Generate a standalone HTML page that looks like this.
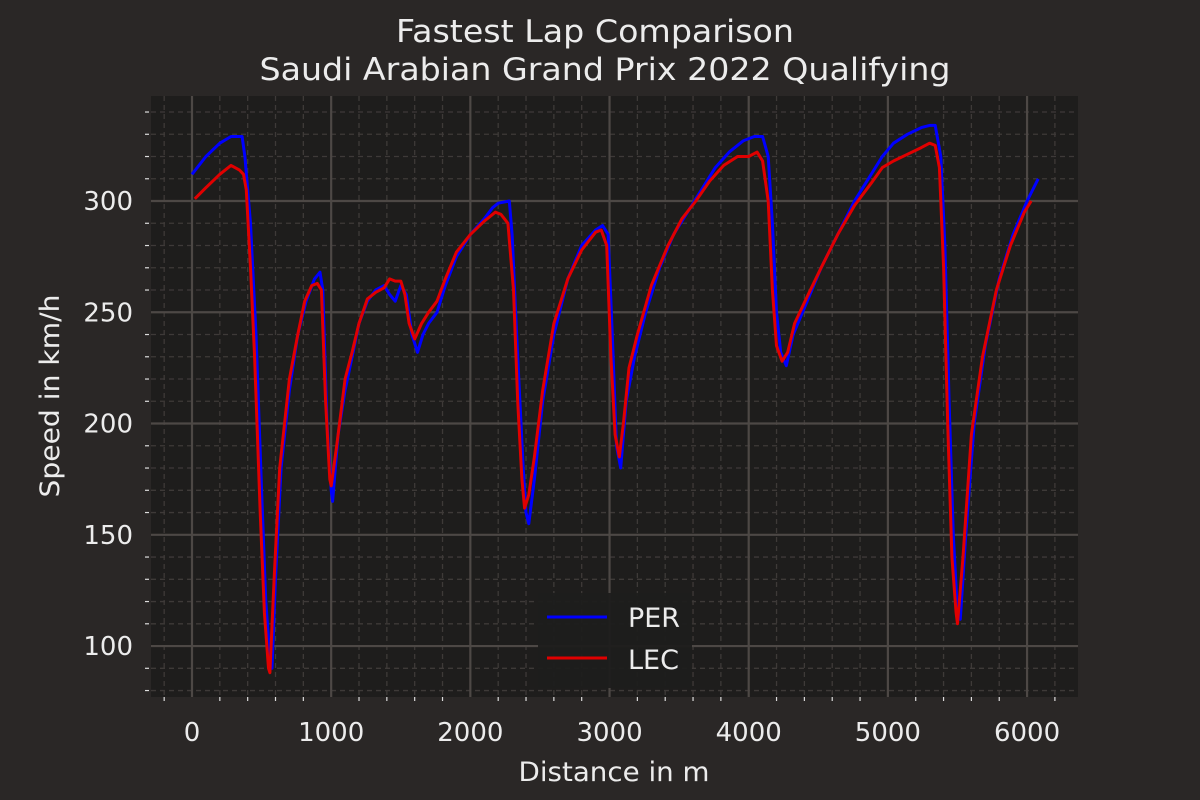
<!DOCTYPE html>
<html><head><meta charset="utf-8"><style>
html,body{margin:0;padding:0;background:#2a2726;}
svg{display:block;font-family:"DejaVu Sans","Liberation Sans",sans-serif;}
</style></head><body>
<svg id="chart" width="1200" height="800">
<rect width="1200" height="800" fill="#2a2726"/>
<rect x="151" y="96" width="927" height="601" fill="#1e1d1c"/>
<g id="grid"></g><g id="ticks"></g><g id="series"></g>
<text x="595" y="42" text-anchor="middle" font-size="31" fill="#ececec" textLength="398" lengthAdjust="spacingAndGlyphs">Fastest Lap Comparison</text>
<text x="605" y="80" text-anchor="middle" font-size="31" fill="#ececec" textLength="691" lengthAdjust="spacingAndGlyphs">Saudi Arabian Grand Prix 2022 Qualifying</text>
<text x="614" y="781" text-anchor="middle" font-size="27" fill="#ececec" textLength="191" lengthAdjust="spacingAndGlyphs">Distance in m</text>
<text transform="translate(59,396) rotate(-90)" text-anchor="middle" font-size="27" fill="#ececec" textLength="203" lengthAdjust="spacingAndGlyphs">Speed in km/h</text>
<g>
<rect x="538" y="593" width="154" height="95" fill="#1e1d1c" opacity="0.95"/>
<line x1="547" y1="617" x2="607" y2="617" stroke="#0000ff" stroke-width="3"/>
<text x="628" y="627" font-size="27" fill="#ececec" textLength="52" lengthAdjust="spacingAndGlyphs">PER</text>
<line x1="547" y1="658" x2="607" y2="658" stroke="#e00000" stroke-width="3"/>
<text x="628" y="669" font-size="27" fill="#ececec" textLength="51" lengthAdjust="spacingAndGlyphs">LEC</text>
</g>
</svg>
<script>
const xTicks=[0,1000,2000,3000,4000,5000,6000];
const yTicks=[100,150,200,250,300];
const perDist=[0,100,200,280,360,380,420,460,500,530,560,575,600,640,700,760,820,880,920,940,970,1000,1010,1050,1100,1150,1200,1260,1320,1380,1420,1460,1500,1540,1580,1620,1660,1700,1760,1820,1900,2000,2100,2160,2200,2280,2300,2340,2380,2400,2420,2460,2520,2600,2700,2800,2900,2950,2990,3020,3050,3080,3120,3180,3260,3360,3460,3560,3660,3760,3860,3960,4040,4100,4140,4170,4200,4230,4270,4320,4420,4520,4640,4760,4880,4960,5040,5140,5240,5300,5340,5380,5410,5440,5470,5500,5520,5560,5620,5700,5800,5900,6000,6080];
const perSpeed=[312,320,326,329,329,320,290,240,170,120,95,90,130,180,215,240,255,265,268,260,200,170,165,195,215,230,245,255,260,262,258,255,262,258,240,232,240,245,250,262,275,285,292,297,299,300,285,230,180,160,155,175,210,240,265,280,287,289,285,240,190,180,210,230,250,270,285,295,305,315,322,327,329,329,320,290,250,232,226,240,255,270,285,300,312,320,326,330,333,334,334,320,280,210,150,115,112,150,200,235,265,285,300,310];
const lecDist=[20,100,200,280,340,370,390,420,450,490,520,550,560,590,630,700,760,810,860,900,930,960,990,1000,1040,1100,1150,1200,1260,1320,1380,1420,1460,1500,1530,1560,1600,1650,1700,1760,1820,1900,2000,2100,2180,2220,2270,2310,2340,2370,2390,2420,2460,2520,2600,2700,2800,2900,2940,2980,3010,3040,3070,3100,3140,3200,3300,3420,3520,3620,3720,3820,3920,4000,4060,4100,4140,4170,4200,4240,4280,4330,4420,4520,4640,4760,4880,4960,5040,5140,5240,5300,5340,5370,5400,5430,5460,5490,5500,5540,5600,5680,5780,5880,5980,6030];
const lecSpeed=[301,306,312,316,314,312,305,270,230,160,115,90,88,130,180,220,240,255,262,263,260,210,175,172,190,220,232,245,256,259,261,265,264,264,258,245,238,245,250,255,265,277,285,291,295,294,290,260,210,175,162,168,185,215,245,265,278,286,287,280,230,195,185,200,225,240,262,280,292,300,309,316,320,320,322,318,300,260,235,228,232,245,257,270,285,298,308,315,318,321,324,326,325,315,270,200,140,115,110,140,195,230,260,280,295,300];

const X0=151,X1=1078,Y0=96,Y1=697,xMin=-294.6,xMax=6366,yMin=77.1,yMax=347.2;
const sx=v=>X0+(v-xMin)/(xMax-xMin)*(X1-X0);
const sy=v=>Y1-(v-yMin)/(yMax-yMin)*(Y1-Y0);
const NS='http://www.w3.org/2000/svg';
function mk(tag,attrs,parent){const e=document.createElementNS(NS,tag);for(const k in attrs)e.setAttribute(k,attrs[k]);parent.appendChild(e);return e;}
const grid=document.getElementById('grid'),ticks=document.getElementById('ticks'),series=document.getElementById('series');
for(let v=-200;v<=6300;v+=200){if(v%1000===0)continue;const x=sx(v);
 const l=mk('line',{x1:x,x2:x,y1:Y0,y2:Y1,stroke:'#3e3a38','stroke-width':1.3,'stroke-dasharray':'5,4'},grid);
 
 
 const t=mk('line',{x1:x,x2:x,y1:Y1,y2:Y1+4,stroke:'#ddd','stroke-width':1.2},ticks);
 
 }
for(let v=80;v<=340;v+=10){if(v%50===0)continue;const y=sy(v);
 const l=mk('line',{x1:X0,x2:X1,y1:y,y2:y,stroke:'#3e3a38','stroke-width':1.3,'stroke-dasharray':'5,4'},grid);
 
 
 const t=mk('line',{x1:X0-6,x2:X0-2,y1:y,y2:y,stroke:'#ddd','stroke-width':1.2},ticks);
 
 }
xTicks.forEach(v=>{const x=sx(v);
 const l=mk('line',{x1:x,x2:x,y1:Y0,y2:Y1,stroke:'#4d4845','stroke-width':2.2},grid);
 
 
 const t=mk('text',{x:x,y:Y1+44,'text-anchor':'middle','font-size':26,fill:'#ececec'},ticks);t.textContent=v;
 
 });
yTicks.forEach(v=>{const y=sy(v);
 const l=mk('line',{x1:X0,x2:X1,y1:y,y2:y,stroke:'#4d4845','stroke-width':2.2},grid);
 
 
 const t=mk('text',{x:X0-18,y:y+9,'text-anchor':'end','font-size':26,fill:'#ececec'},ticks);t.textContent=v;
 
 });
function line(d,s,color,name){const pts=d.map((v,i)=>sx(v).toFixed(1)+','+sy(s[i]).toFixed(1)).join(' ');
 const p=mk('polyline',{points:pts,fill:'none',stroke:color,'stroke-width':3,'stroke-linejoin':'round'},series);
 
 }
line(perDist,perSpeed,'#0000ff','per-speed-line');
line(lecDist,lecSpeed,'#e00000','lec-speed-line');
</script>
</body></html>
